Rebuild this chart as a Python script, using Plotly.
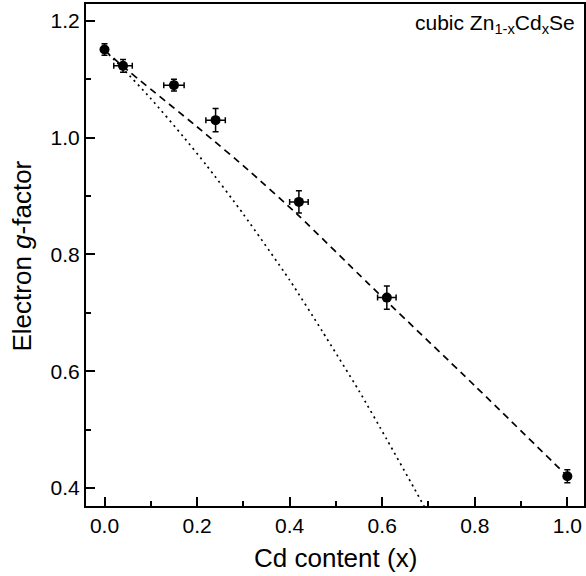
import plotly.graph_objects as go

# measured data
cd_x = [0.0, 0.04, 0.15, 0.24, 0.42, 0.61, 1.0]
g_val = [1.151, 1.123, 1.090, 1.030, 0.890, 0.726, 0.420]
x_err = [0.0, 0.02, 0.022, 0.021, 0.02, 0.02, 0.0]
y_err = [0.010, 0.011, 0.010, 0.020, 0.019, 0.020, 0.011]

# dashed curve
dash_x = [0.0, 0.04, 0.21, 0.31, 0.42, 0.57, 0.8, 1.0]
dash_y = [1.15, 1.122, 1.012, 0.945, 0.866, 0.750, 0.575, 0.42]

# dotted curve
dot_x = [0.0, 0.04, 0.1, 0.17, 0.22, 0.3, 0.4, 0.47, 0.55, 0.61, 0.67, 0.695]
dot_y = [1.15, 1.118, 1.067, 1.002, 0.953, 0.869, 0.756, 0.669, 0.566, 0.483, 0.398, 0.362]

x_ticks = [0.0, 0.2, 0.4, 0.6, 0.8, 1.0]
y_ticks = [0.4, 0.6, 0.8, 1.0, 1.2]

FONT = "Liberation Sans, Arial, sans-serif"

fig = go.Figure()
fig.add_trace(go.Scatter(x=dot_x, y=dot_y, mode="lines",
                         line=dict(color="black", width=1.7, dash="2px,4px", shape="spline", smoothing=0.6),
                         hoverinfo="skip"))
fig.add_trace(go.Scatter(x=dash_x, y=dash_y, mode="lines",
                         line=dict(color="black", width=1.7, dash="7px,5px", shape="spline", smoothing=0.6),
                         hoverinfo="skip"))
fig.add_trace(go.Scatter(x=cd_x, y=g_val, mode="markers",
                         marker=dict(color="black", size=10),
                         error_x=dict(type="data", array=x_err, color="black", thickness=1.5, width=3),
                         error_y=dict(type="data", array=y_err, color="black", thickness=1.5, width=3)))

fig.add_annotation(xref="paper", yref="paper", x=0.986, y=0.99,
                   xanchor="right", yanchor="top", showarrow=False,
                   text="cubic Zn<sub>1-x</sub>Cd<sub>x</sub>Se",
                   font=dict(family=FONT, size=21, color="black"))

# axis titles
fig.add_annotation(xref="paper", yref="paper", x=0.5, y=-0.104,
                   xanchor="center", yanchor="middle", showarrow=False,
                   text="Cd content (x)",
                   font=dict(family=FONT, size=26, color="black"))
fig.add_annotation(xref="paper", yref="paper", x=-0.1305, y=0.497,
                   xanchor="center", yanchor="middle", showarrow=False, textangle=-90,
                   text="Electron <i>g</i>-factor",
                   font=dict(family=FONT, size=26, color="black"))

fig.update_layout(
    width=586, height=576,
    margin=dict(l=86, r=2, t=4, b=70, autoexpand=False),
    paper_bgcolor="white", plot_bgcolor="white",
    showlegend=False,
    font=dict(family=FONT, color="black"),
)
fig.update_xaxes(range=[-0.04, 1.036], tickvals=x_ticks, ticktext=[f"{v:.1f}" for v in x_ticks],
                 ticks="inside", ticklen=9, tickwidth=2, tickcolor="black",
                 minor=dict(dtick=0.1, ticks="inside", ticklen=5, tickwidth=2, tickcolor="black"),
                 showline=True, linewidth=2, linecolor="black", mirror=True,
                 showgrid=False, zeroline=False,
                 tickfont=dict(size=21, family=FONT))
fig.update_yaxes(range=[0.369, 1.229], tickvals=y_ticks, ticktext=[f"{v:.1f}" for v in y_ticks],
                 ticks="inside", ticklen=9, tickwidth=2, tickcolor="black",
                 minor=dict(dtick=0.1, ticks="inside", ticklen=5, tickwidth=2, tickcolor="black"),
                 showline=True, linewidth=2, linecolor="black", mirror=True,
                 showgrid=False, zeroline=False,
                 tickfont=dict(size=21, family=FONT))

fig.write_html("out.html")
